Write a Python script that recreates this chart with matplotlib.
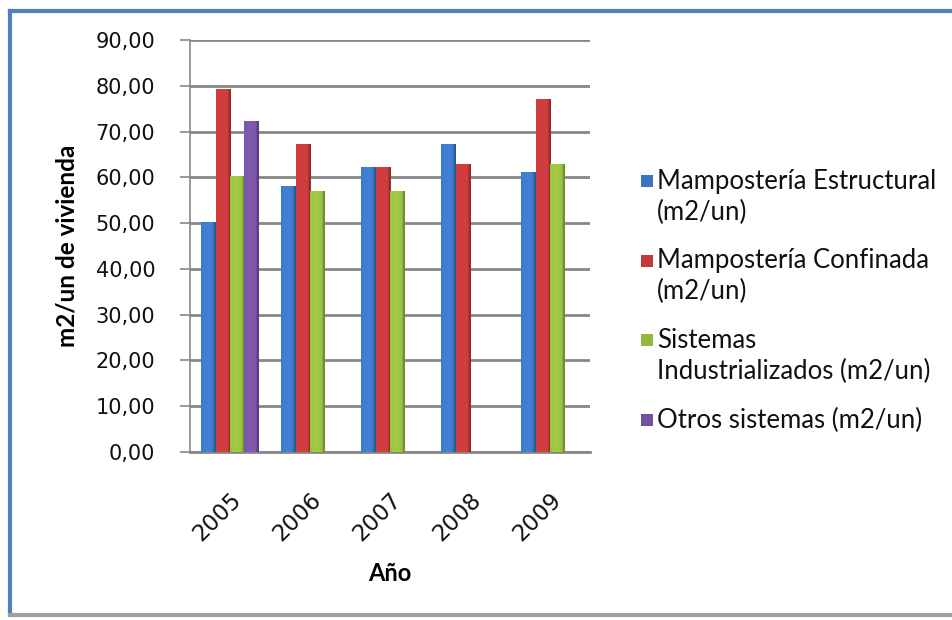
import numpy as np
import matplotlib.pyplot as plt
from matplotlib.colors import to_rgb
from matplotlib.lines import Line2D
from matplotlib.patches import Rectangle

years = ["2005", "2006", "2007", "2008", "2009"]
series_names = [
    "Mampostería Estructural\n(m2/un)",
    "Mampostería Confinada\n(m2/un)",
    "Sistemas\nIndustrializados (m2/un)",
    "Otros sistemas (m2/un)",
]
estructural = [50.3, 58.0, 62.2, 67.2, 61.1]
confinada = [79.2, 67.2, 62.2, 63.0, 77.2]
industrializados = [60.2, 57.1, 57.1, 0.0, 63.0]
otros = [72.2, 0.0, 0.0, 0.0, 0.0]
colors = ["#3a74c2", "#c0393b", "#92b83e", "#7452a0"]

plt.rcParams["font.family"] = ["DejaVu Sans"]

W, H = 952, 620
fig = plt.figure(figsize=(W / 100, H / 100), dpi=100)
ax = fig.add_axes([0.1996, 0.271, 0.4201, 0.6645])


def shade_bar(ax, bar, color):
    # cylinder-like horizontal gradient clipped to the bar
    base = np.array(to_rgb(color))
    x0, y0 = bar.get_x(), bar.get_y()
    w, h = bar.get_width(), bar.get_height()
    if h <= 0:
        return
    t = np.linspace(0, 1, 64)
    light = 1 - 0.55 * np.abs(t - 0.4) ** 1.5
    dark = np.where(t > 0.85, 0.75, 1.0)
    f = (0.82 + 0.28 * light) * dark
    img = np.clip(base[None, :] * f[:, None], 0, 1)[None, :, :]
    im = ax.imshow(img, extent=(x0, x0 + w, y0, y0 + h), aspect="auto",
                   interpolation="bilinear", zorder=3)
    im.set_clip_path(bar)


x = np.arange(len(years))
width = 0.18
data = [estructural, confinada, industrializados, otros]
for i, (vals, c) in enumerate(zip(data, colors)):
    bars = ax.bar(x + (i - 1.5) * width, vals, width, color=c, zorder=2,
                  edgecolor="none")
    for b in bars:
        shade_bar(ax, b, c)

ax.set_xlim(-0.5, len(years) - 0.5)
ax.set_ylim(0, 90)
ax.set_yticks(np.arange(0, 91, 10))
ax.set_yticklabels([f"{v:.2f}".replace(".", ",") for v in np.arange(0, 91, 10)],
                   fontsize=15, color="#111111")
ax.set_xticks(x)
ax.set_xticklabels(years, rotation=45, ha="right", rotation_mode="anchor",
                   fontsize=16.5, color="#111111")
ax.tick_params(axis="x", length=0, pad=26)
ax.tick_params(axis="y", length=7, width=1.2, color="#878787", pad=18)
ax.grid(axis="y", color="#878787", linewidth=2, zorder=0)
ax.set_axisbelow(True)
for s in ["top", "right"]:
    ax.spines[s].set_visible(False)
ax.spines["left"].set_color("#878787")
ax.spines["left"].set_linewidth(1.2)
ax.spines["bottom"].set_color("#878787")
ax.spines["bottom"].set_linewidth(2)

ax.set_ylabel("m2/un de vivienda", fontsize=17.5, fontweight="bold",
              family="Lato", labelpad=12)
ax.set_xlabel("Año", fontsize=17, fontweight="bold", family="Lato", labelpad=12)

# legend: square key beside the first line of each entry
leg_x, leg_y, entry_step, line_step, key = 641, 181, 79.7, 31, 12
for i, (name, c) in enumerate(zip(series_names, colors)):
    yc = leg_y + i * entry_step
    fig.add_artist(Rectangle((leg_x / W, 1 - (yc + key / 2) / H), key / W,
                             key / H, facecolor=c, edgecolor="none",
                             transform=fig.transFigure))
    for j, line in enumerate(name.split("\n")):
        fig.text((leg_x + key + 4) / W, 1 - (yc + j * line_step) / H, line,
                 family="Lato", fontsize=18.5, va="center", ha="left",
                 color="#111111")

# outer chart frame
fig.add_artist(Line2D([0.011, 0.999], [0.983, 0.983], color="#4f81bd", lw=3,
                      transform=fig.transFigure))
fig.add_artist(Line2D([0.011, 0.011], [0.983, 0.008], color="#4f81bd", lw=3,
                      transform=fig.transFigure))
fig.add_artist(Line2D([0.011, 0.999], [0.008, 0.008], color="#a0a0a0", lw=3,
                      transform=fig.transFigure))

fig.savefig("out.png", dpi=100)
